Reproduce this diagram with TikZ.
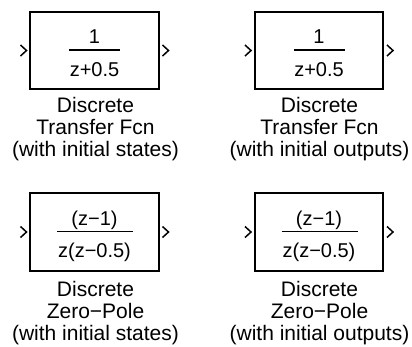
\documentclass[tikz,border=0pt]{standalone}
\usepackage{fontspec}
\setmainfont{Liberation Sans}
\begin{document}
\begin{tikzpicture}[x=1bp,y=-1bp,
  blk/.style={draw,line width=2bp,minimum width=128bp,minimum height=77bp,inner sep=0pt},
  lbl/.style={font=\fontsize{21bp}{22bp}\selectfont,align=center,anchor=north,inner sep=0pt},
  fr/.style={font=\fontsize{20bp}{24bp}\selectfont,inner sep=0pt,anchor=base},
  bar/.style={line width=1.8bp},
  port/.style={line width=1.5bp}]
\useasboundingbox (0,0) rectangle (412,347);
% blocks
\node[blk] (b1) at (94.5,50.5) {};
\node[blk] (b2) at (319,50.5) {};
\node[blk,minimum height=78bp] (b3) at (94.5,232) {};
\node[blk,minimum height=78bp] (b4) at (319,232) {};
% ports
\foreach \b in {b1,b2,b3,b4}{
  \draw[port] ([shift={(-9,-5.5)}]\b.west) -- ([shift={(-3,0)}]\b.west) -- ([shift={(-9,5.5)}]\b.west);
  \draw[port] ([shift={(3,-5.5)}]\b.east) -- ([shift={(9,0)}]\b.east) -- ([shift={(3,5.5)}]\b.east);
}
% fractions top
\node[fr] (n1) at (94.5,43) {1};
\node[fr] (d1) at (94.5,76.5) {z+0.5};
\draw[bar] (69,50) -- (120,50);
\node[fr] (n2) at (319,43) {1};
\node[fr] (d2) at (319,76.5) {z+0.5};
\draw[bar] (293.5,50) -- (344.5,50);
% fractions bottom
\node[fr] (n3) at (94.5,225) {(z−1)};
\node[fr] (d3) at (94.5,257) {z(z−0.5)};
\draw[bar] (57,231.5) -- (133,231.5);
\node[fr] (n4) at (319,225) {(z−1)};
\node[fr] (d4) at (319,257) {z(z−0.5)};
\draw[bar] (281.5,231.5) -- (357.5,231.5);
% labels
\node[lbl] (l1) at (95.5,97) {Discrete\\Transfer Fcn\\(with initial states)};
\node[lbl] (l2) at (319.5,97) {Discrete\\Transfer Fcn\\(with initial outputs)};
\node[lbl] (l3) at (95.5,281) {Discrete\\Zero−Pole\\(with initial states)};
\node[lbl] (l4) at (319.5,281) {Discrete\\Zero−Pole\\(with initial outputs)};
\end{tikzpicture}
\end{document}
